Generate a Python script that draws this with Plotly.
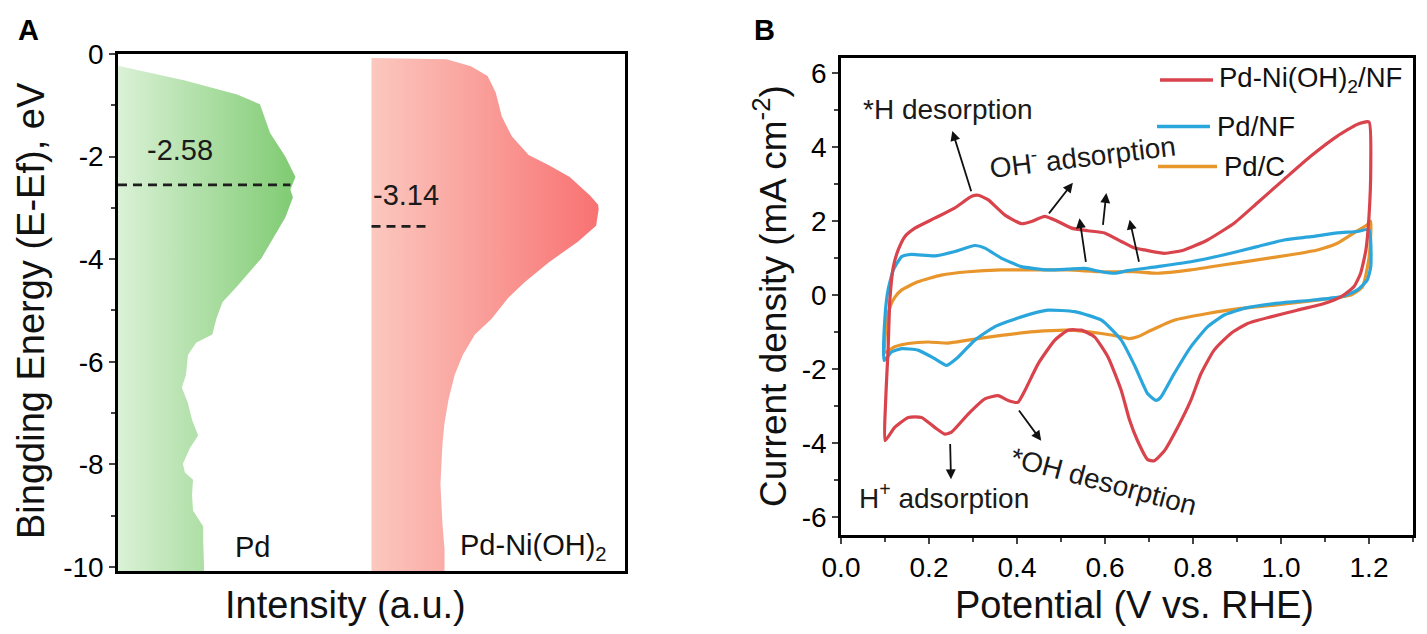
import plotly.graph_objects as go

# ---------------- Panel A data (DOS profiles) ----------------
pd_energy = [-0.24, -0.51, -0.79, -0.98, -1.54, -2.0, -2.4, -2.64, -2.8, -3.19, -3.98, -4.53, -4.84,
             -5.16, -5.47, -5.63, -5.87, -6.26, -6.5, -6.81, -7.13, -7.44, -7.68, -7.99, -8.16, -8.3,
             -8.6, -8.9, -9.21, -9.5, -10.08]
pd_intensity = [0.004, 0.13, 0.235, 0.28, 0.30, 0.33, 0.35, 0.34, 0.345, 0.33, 0.283, 0.235, 0.206,
                0.194, 0.186, 0.154, 0.138, 0.134, 0.126, 0.138, 0.146, 0.158, 0.142, 0.128, 0.132, 0.148,
                0.146, 0.148, 0.168, 0.168, 0.170]

pdni_energy = [-0.08, -0.10, -0.24, -0.43, -0.75, -1.22, -1.61, -1.97, -2.17, -2.40, -2.76, -2.94, -3.03,
               -3.35, -3.66, -4.06, -4.45, -4.76, -5.16, -5.47, -5.87, -6.26, -6.73, -7.2, -7.6, -7.99,
               -8.39, -8.78, -9.17, -9.65, -10.08]
pdni_intensity = [0.5, 0.648, 0.696, 0.729, 0.745, 0.757, 0.777, 0.810, 0.850, 0.891, 0.931, 0.947, 0.948,
                  0.943, 0.907, 0.850, 0.802, 0.769, 0.737, 0.704, 0.680, 0.664, 0.652, 0.644, 0.640, 0.638,
                  0.636, 0.638, 0.640, 0.644, 0.644]

dband_labels = ["-2.58", "-3.14"]
dband_line_y = [-2.55, -3.36]
dband_line_x = [[0.0, 0.34], [0.5, 0.613]]
sample_names_A = ["Pd", "Pd-Ni(OH)<sub>2</sub>"]
yA_ticks = [0, -2, -4, -6, -8, -10]
yA_ticktext = ["0", "-2", "-4", "-6", "-8", "-10"]

# ---------------- Panel B data (CV curves) ----------------
red_V = [0.100, 0.101, 0.104, 0.107, 0.111, 0.119, 0.130, 0.145, 0.168, 0.213, 0.259, 0.297, 0.312, 0.334,
         0.372, 0.410, 0.433, 0.463, 0.493, 0.524, 0.561, 0.599, 0.637, 0.667, 0.690, 0.735, 0.780, 0.833,
         0.894, 0.946, 1.007, 1.068, 1.128, 1.174, 1.200,
         1.204, 1.200, 1.193, 1.181, 1.166, 1.136, 1.098, 1.037, 0.977, 0.924, 0.886, 0.848, 0.818, 0.795,
         0.765, 0.735, 0.712, 0.697, 0.674, 0.655, 0.637, 0.607, 0.576, 0.546, 0.516, 0.486, 0.448, 0.418,
         0.402, 0.380, 0.357, 0.327, 0.289, 0.251, 0.236, 0.213, 0.183, 0.153, 0.122, 0.100]
red_J = [-3.94, -3.0, -2.2, -1.49, -0.14, 0.77, 1.22, 1.58, 1.81, 2.08, 2.36, 2.67, 2.70, 2.58,
         2.17, 1.93, 1.99, 2.13, 1.99, 1.81, 1.74, 1.68, 1.45, 1.27, 1.22, 1.13, 1.22, 1.49,
         1.95, 2.49, 3.13, 3.76, 4.30, 4.62, 4.68,
         3.49, 2.13, 1.22, 0.59, 0.23, -0.05, -0.23, -0.41, -0.59, -0.77, -1.04, -1.49, -2.13, -2.85,
         -3.58, -4.21, -4.48, -4.45, -3.94, -3.35, -2.58, -1.68, -1.13, -0.95, -0.95, -1.22, -1.86, -2.58,
         -2.90, -2.85, -2.72, -2.81, -3.22, -3.71, -3.76, -3.58, -3.31, -3.31, -3.58, -3.94]

blue_V = [0.098, 0.100, 0.107, 0.119, 0.138, 0.160, 0.213, 0.259, 0.304, 0.327, 0.364, 0.410, 0.470, 0.516,
          0.554, 0.592, 0.622, 0.652, 0.720, 0.795, 0.871, 0.946, 1.007, 1.068, 1.128, 1.174, 1.200,
          1.204, 1.196, 1.174, 1.136, 1.068, 0.985, 0.916, 0.871, 0.833, 0.795, 0.757, 0.727, 0.716, 0.697,
          0.667, 0.637, 0.592, 0.531, 0.470, 0.410, 0.349, 0.304, 0.266, 0.240, 0.213, 0.175, 0.138, 0.115,
          0.098]
blue_J = [-1.77, -0.59, 0.14, 0.68, 1.04, 1.10, 1.06, 1.18, 1.34, 1.27, 1.00, 0.77, 0.68, 0.70,
          0.72, 0.63, 0.59, 0.66, 0.77, 0.90, 1.09, 1.31, 1.49, 1.58, 1.68, 1.72, 1.77,
          0.77, 0.41, 0.14, -0.05, -0.14, -0.23, -0.36, -0.54, -0.86, -1.40, -2.13, -2.76, -2.85, -2.67,
          -1.90, -1.22, -0.68, -0.45, -0.41, -0.59, -0.86, -1.22, -1.68, -1.90, -1.72, -1.49, -1.45, -1.54,
          -1.77]

orange_V = [0.100, 0.104, 0.112, 0.123, 0.138, 0.175, 0.228, 0.289, 0.364, 0.440, 0.516, 0.592, 0.667,
            0.720, 0.795, 0.871, 0.946, 1.022, 1.083, 1.128, 1.166, 1.196, 1.204,
            1.200, 1.185, 1.159, 1.113, 1.053, 0.985, 0.909, 0.833, 0.757, 0.705, 0.674, 0.655, 0.637,
            0.592, 0.516, 0.440, 0.364, 0.289, 0.243, 0.198, 0.153, 0.122, 0.100]
orange_J = [-1.55, -0.7, -0.3, -0.05, 0.14, 0.36, 0.54, 0.63, 0.68, 0.68, 0.68, 0.63, 0.63,
            0.59, 0.68, 0.82, 0.95, 1.09, 1.22, 1.40, 1.68, 1.90, 2.00,
            1.0, 0.22, 0.0, -0.09, -0.18, -0.27, -0.36, -0.50, -0.68, -0.95, -1.13, -1.18, -1.13,
            -1.04, -0.95, -0.99, -1.09, -1.22, -1.30, -1.27, -1.31, -1.40, -1.55]

series_names = ["Pd-Ni(OH)<sub>2</sub>/NF", "Pd/NF", "Pd/C"]
series_colors = ["#d8434c", "#2aa6dc", "#e8962c"]
xB_ticks = [0.0, 0.2, 0.4, 0.6, 0.8, 1.0, 1.2]
xB_ticktext = ["0.0", "0.2", "0.4", "0.6", "0.8", "1.0", "1.2"]
yB_ticks = [-6, -4, -2, 0, 2, 4, 6]
yB_ticktext = ["-6", "-4", "-2", "0", "2", "4", "6"]

FONT = "Liberation Sans, Arial, sans-serif"
OFF = 8                    # page body margin
W, H = 1427 - OFF, 634 - OFF

fig = go.Figure()

# ---- Panel A fills ----
fig.add_trace(go.Scatter(
    x=[0.0] + pd_intensity + [0.0], y=[pd_energy[0]] + pd_energy + [pd_energy[-1]],
    fill="toself", mode="lines", line=dict(width=0, color="rgba(0,0,0,0)"),
    fillgradient=dict(type="horizontal", colorscale=[[0, "#daf1d6"], [1, "#7fcb72"]]),
    xaxis="x", yaxis="y", showlegend=False, hoverinfo="skip"))
fig.add_trace(go.Scatter(
    x=[0.5] + pdni_intensity + [0.5], y=[pdni_energy[0]] + pdni_energy + [pdni_energy[-1]],
    fill="toself", mode="lines", line=dict(width=0, color="rgba(0,0,0,0)"),
    fillgradient=dict(type="horizontal", colorscale=[[0, "#fbc8bf"], [1, "#f87272"]]),
    xaxis="x", yaxis="y", showlegend=False, hoverinfo="skip"))
for xs, yv in zip(dband_line_x, dband_line_y):
    fig.add_trace(go.Scatter(x=xs, y=[yv, yv], mode="lines",
                             line=dict(color="#1e1e1e", width=2.8, dash="9px,6px"),
                             xaxis="x", yaxis="y", showlegend=False, hoverinfo="skip"))

# ---- Panel B curves ----
for V, J, nm, c in [(orange_V, orange_J, series_names[2], series_colors[2]),
                    (blue_V, blue_J, series_names[1], series_colors[1]),
                    (red_V, red_J, series_names[0], series_colors[0])]:
    fig.add_trace(go.Scatter(x=V, y=J, mode="lines", name=nm,
                             line=dict(color=c, width=3.2, shape="spline", smoothing=0.5),
                             xaxis="x2", yaxis="y2", showlegend=False))

def px_x(p):
    return (p - OFF) / W

def px_y(p):
    return 1 - (p - OFF) / H

axis_common = dict(showline=True, linewidth=2.5, linecolor="black", mirror=True,
                   showgrid=False, zeroline=False, automargin=False,
                   tickfont=dict(family=FONT, size=28, color="black"))

fig.update_layout(
    template="none",
    width=W, height=H, margin=dict(l=0, r=0, t=0, b=0, pad=0),
    paper_bgcolor="white", plot_bgcolor="white",
    font=dict(family=FONT, color="black"),
    xaxis=dict(domain=[px_x(118), px_x(625)], range=[0, 1], showticklabels=False, ticks="",
               anchor="y", **axis_common),
    yaxis=dict(domain=[px_y(571), px_y(54)], range=[-10.08, 0],
               tickmode="array", tickvals=yA_ticks, ticktext=yA_ticktext,
               ticks="outside", ticklen=6, tickwidth=2, anchor="x",
               minor=dict(tickmode="linear", tick0=0, dtick=1, ticks="outside", ticklen=4, tickwidth=2,
                          showgrid=False),
               **axis_common),
    xaxis2=dict(domain=[px_x(841), px_x(1413)], range=[0, 1.3],
                tickmode="array", tickvals=xB_ticks, ticktext=xB_ticktext,
                ticks="outside", ticklen=6, tickwidth=2, anchor="y2",
                minor=dict(tickmode="linear", tick0=0, dtick=0.1, ticks="outside", ticklen=4, tickwidth=2,
                           showgrid=False),
                **axis_common),
    yaxis2=dict(domain=[px_y(535), px_y(57.7)], range=[-6.49, 6.42],
                tickmode="array", tickvals=yB_ticks, ticktext=yB_ticktext,
                ticks="outside", ticklen=6, tickwidth=2, anchor="x2",
                minor=dict(tickmode="linear", tick0=0, dtick=1, ticks="outside", ticklen=4, tickwidth=2,
                           showgrid=False),
                **axis_common),
)

ann = []

def paper_text(text, x, y, size, angle=0, xanchor="center", color="#111"):
    ann.append(dict(text=text, x=px_x(x), y=px_y(y), xref="paper", yref="paper",
                    xanchor=xanchor, yanchor="middle", showarrow=False, textangle=angle,
                    font=dict(family=FONT, size=size, color=color)))

# panel labels
paper_text("<b>A</b>", 28, 30, 29, color="black")
paper_text("<b>B</b>", 764, 30, 29, color="black")
# axis titles
paper_text("Intensity (a.u.)", 345, 605, 38)
paper_text("Bingding Energy (E-Ef), eV", 31, 311, 38, angle=-90)
paper_text("Potential (V vs. RHE)", 1134, 605, 38)
paper_text("Current density (mA cm<sup>-2</sup>)", 770, 296, 37, angle=-90)

def data_text(text, x, y, size, xr, yr, angle=0, xanchor="center", color="#1a1a1a"):
    ann.append(dict(text=text, x=x, y=y, xref=xr, yref=yr, xanchor=xanchor, yanchor="middle",
                    showarrow=False, textangle=angle, font=dict(family=FONT, size=size, color=color)))

# panel A texts
data_text(dband_labels[0], 0.122, -1.87, 29, "x", "y")
data_text(dband_labels[1], 0.568, -2.74, 29, "x", "y")
data_text(sample_names_A[0], 0.265, -9.62, 29, "x", "y", color="#111")
data_text(sample_names_A[1], 0.82, -9.62, 29, "x", "y", color="#111")

# panel B annotation texts
data_text("*H desorption", 0.046, 5.03, 28, "x2", "y2", xanchor="left")
data_text("OH<sup>-</sup> adsorption", 0.549, 3.78, 28, "x2", "y2", angle=-7)
data_text("H<sup>+</sup> adsorption", 0.037, -5.43, 28, "x2", "y2", xanchor="left")
data_text("*OH desorption", 0.597, -5.03, 28, "x2", "y2", angle=15)

# arrows (tail -> head) in data coords
arrows = [((0.297, 2.77), (0.253, 4.44)),
          ((0.470, 2.17), (0.527, 3.04)),
          ((0.557, 0.86), (0.542, 2.08)),
          ((0.595, 1.86), (0.603, 2.76)),
          ((0.678, 0.86), (0.656, 2.04)),
          ((0.248, -3.99), (0.250, -4.98)),
          ((0.402, -3.08), (0.455, -3.94))]
for (tx, ty), (hx, hy) in arrows:
    ann.append(dict(text="", x=hx, y=hy, ax=tx, ay=ty, xref="x2", yref="y2", axref="x2", ayref="y2",
                    showarrow=True, arrowhead=2, arrowsize=1.1, arrowwidth=1.8, arrowcolor="#111"))

# legend (manual)
leg_rows = [(80, 1160, 1213, 1217), (126.5, 1157, 1210, 1215), (166.5, 1158, 1217, 1222)]
shapes = []
for (yy, x0, x1, tx), nm, c in zip(leg_rows, series_names, series_colors):
    shapes.append(dict(type="line", xref="paper", yref="paper", x0=px_x(x0), x1=px_x(x1),
                       y0=px_y(yy), y1=px_y(yy), line=dict(color=c, width=3.5)))
    paper_text(nm, tx, yy, 27.5, xanchor="left")

fig.update_layout(annotations=ann, shapes=shapes)
fig.write_html("out.html")
